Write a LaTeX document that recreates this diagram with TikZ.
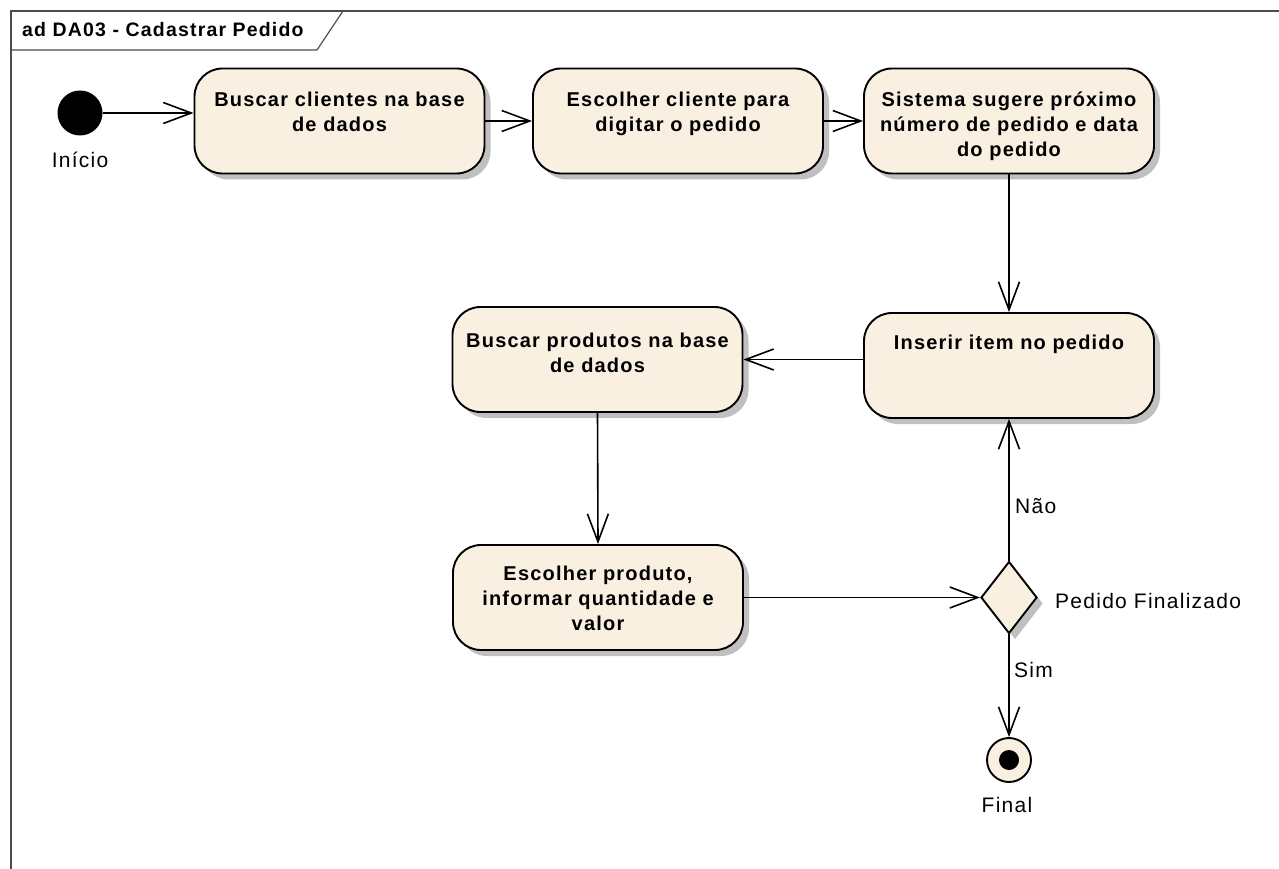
\documentclass[tikz,border=0pt]{standalone}
\usepackage{fontspec}
\setmainfont{Liberation Sans}[LetterSpace=6]
\usetikzlibrary{arrows.meta,shapes.geometric,shadows}
\definecolor{actfill}{RGB}{250,240,225}
\definecolor{shadowgray}{RGB}{192,192,192}
\begin{document}
\begin{tikzpicture}[x=1pt,y=-1pt,
  actbox/.style={draw=black, line width=1.9pt, fill=actfill, rounded corners=28pt,
    minimum width=290pt, minimum height=105pt, inner sep=0pt,
    drop shadow={shadow xshift=6pt, shadow yshift=-6pt, fill=shadowgray, opacity=1}},
  acttext/.style={anchor=base, text width=288pt, align=center, inner sep=0pt,
    font=\bfseries\fontsize{20}{25}\selectfont},
  initnode/.style={circle, fill=black, minimum size=45pt, inner sep=0pt},
  finnode/.style={circle, draw=black, line width=1.9pt, fill=actfill, minimum size=44pt, inner sep=0pt},
  findot/.style={circle, fill=black, minimum size=20pt, inner sep=0pt},
  decnode/.style={diamond, draw=black, line width=1.9pt, fill=actfill, minimum width=56pt,
    minimum height=72pt, inner sep=0pt,
    drop shadow={shadow xshift=6pt, shadow yshift=-6pt, fill=shadowgray, opacity=1}},
  flow/.style={line width=1.6pt, -{Straight Barb[length=28pt, width=21pt, line width=1.6pt]}},
  lbl/.style={font=\fontsize{21}{24}\selectfont, inner sep=0pt},
  frameline/.style={draw=black!70, line width=1.2pt}]
\useasboundingbox (0,0) rectangle (1279,869);
% frame
\draw[frameline] (11,869) -- (11,11) -- (1279,11);
\draw[frameline] (11,50) -- (317,50) -- (343,11);
\node[font=\bfseries\fontsize{19.5}{22}\selectfont, anchor=base west, inner sep=0pt] (title) at (22,37) {ad DA03 - Cadastrar Pedido};
% nodes
\node[initnode] (ini) at (80,113) {};
\node[lbl, anchor=base] (inilbl) at (80,168) {Início};
\node[actbox] (b1) at (339.5,121) {};
\node[actbox] (b2) at (678,121) {};
\node[actbox] (b3) at (1009,121) {};
\node[actbox] (ins) at (1009,365.5) {};
\node[actbox] (bp) at (597.5,359.5) {};
\node[actbox] (esc) at (598,597.5) {};
\node[decnode] (dec) at (1009,597.5) {};
\node[finnode] (fin) at (1009,760) {};
\node[findot] (findt) at (fin.center) {};
% texts
\node[acttext] (t1) at ([yshift=-39pt]b1.north) {Buscar clientes na base\\de dados};
\node[acttext] (t2) at ([yshift=-39pt]b2.north) {Escolher cliente para\\digitar o pedido};
\node[acttext] (t3) at ([yshift=-39pt]b3.north) {Sistema sugere próximo\\número de pedido e data\\do pedido};
\node[acttext] (t4) at ([yshift=-37pt]ins.north) {Inserir item no pedido};
\node[acttext] (t5) at ([yshift=-41pt]bp.north) {Buscar produtos na base\\de dados};
\node[acttext] (t6) at ([yshift=-36pt]esc.north) {Escolher produto,\\informar quantidade e\\valor};
\node[lbl, anchor=base west] (nao) at (1015,513) {Não};
\node[lbl, anchor=base west] (sim) at (1014,677) {Sim};
\node[lbl, anchor=base west] (pf) at (1055,608) {Pedido Finalizado};
\node[lbl, anchor=base] (finlbl) at (1007,812) {Final};
% flows
\draw[flow] (ini.east) -- (ini.east -| b1.west);
\draw[flow] (b1.east) -- (b2.west);
\draw[flow] (b2.east) -- (b3.west);
\draw[flow] (b3.south) -- (ins.north);
\draw[flow] (ins.west |- bp.east) -- (bp.east);
\draw[flow] (bp.south) -- (esc.north);
\draw[flow] (esc.east) -- (dec.west);
\draw[flow] (dec.north) -- (ins.south);
\draw[flow] (dec.south) -- (fin.north);
\end{tikzpicture}
\end{document}
